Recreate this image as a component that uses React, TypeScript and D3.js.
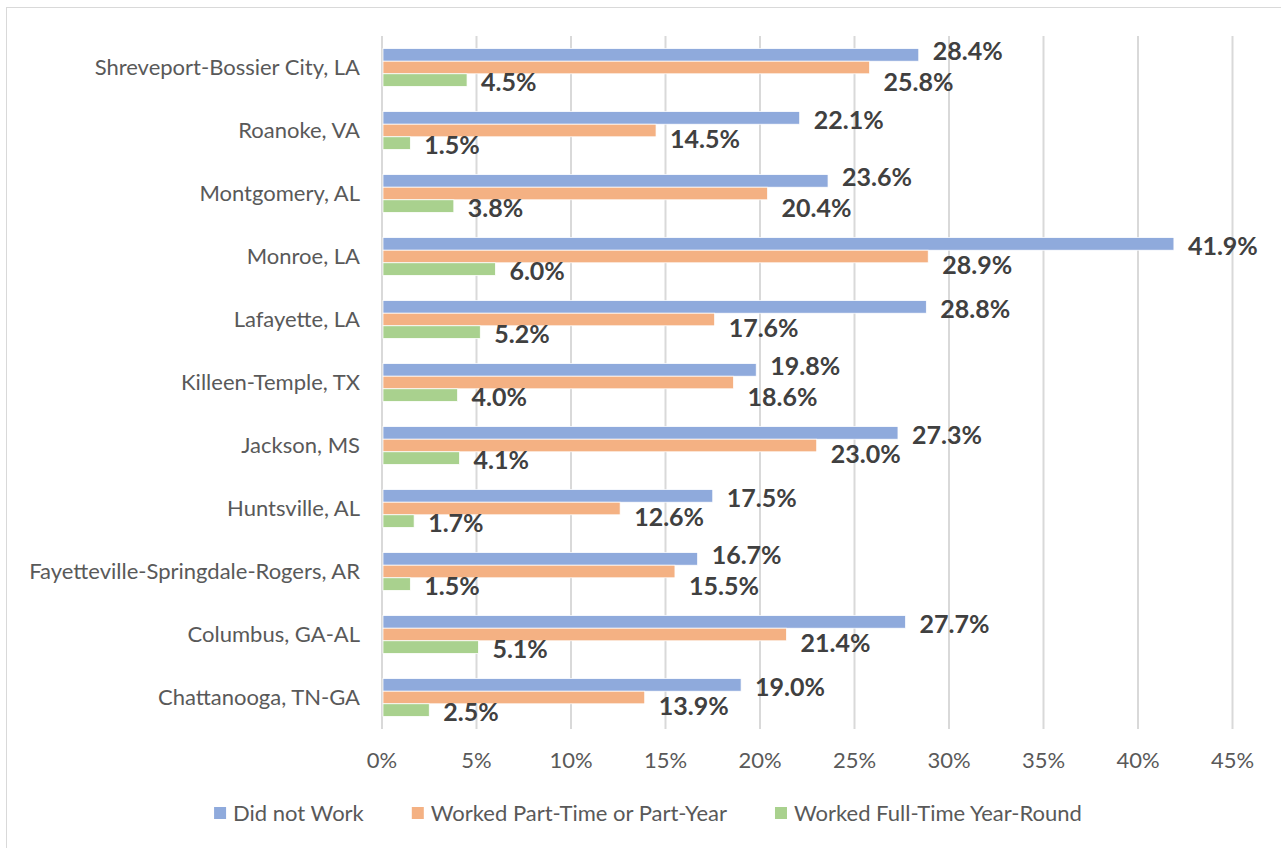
import React, { useRef, useEffect } from 'react';
import * as d3 from 'd3';

const categories = [
  'Shreveport-Bossier City, LA',
  'Roanoke, VA',
  'Montgomery, AL',
  'Monroe, LA',
  'Lafayette, LA',
  'Killeen-Temple, TX',
  'Jackson, MS',
  'Huntsville, AL',
  'Fayetteville-Springdale-Rogers, AR',
  'Columbus, GA-AL',
  'Chattanooga, TN-GA',
];
const didNotWork = [28.4, 22.1, 23.6, 41.9, 28.8, 19.8, 27.3, 17.5, 16.7, 27.7, 19.0];
const partTime = [25.8, 14.5, 20.4, 28.9, 17.6, 18.6, 23.0, 12.6, 15.5, 21.4, 13.9];
const fullTime = [4.5, 1.5, 3.8, 6.0, 5.2, 4.0, 4.1, 1.7, 1.5, 5.1, 2.5];
const seriesNames = ['Did not Work', 'Worked Part-Time or Part-Year', 'Worked Full-Time Year-Round'];
const seriesColors = ['#8FAADC', '#F4B183', '#A9D18E'];
const xTicks = [0, 5, 10, 15, 20, 25, 30, 35, 40, 45];

const W = 1281;
const H = 848;
const FONT = 'Lato, "Noto Sans", sans-serif';

const App: React.FC = () => {
  const svgRef = useRef<SVGSVGElement>(null);

  useEffect(() => {
    if (!svgRef.current) return;
    const svg = d3.select(svgRef.current);
    svg.selectAll('*').remove();

    const plot = { left: 382, right: 1232.5, top: 36, bottom: 729 };
    const values = [didNotWork, partTime, fullTime];

    const x = d3.scaleLinear().domain([0, 45]).range([plot.left, plot.right]);
    const y = d3.scaleBand<string>()
      .domain(categories)
      .range([plot.top, plot.bottom])
      .paddingInner(0.4)
      .paddingOuter(0.2);
    const sub = d3.scaleBand<number>().domain([0, 1, 2]).range([0, y.bandwidth()]);

    // chart frame (cut off at right/bottom)
    svg.append('rect')
      .attr('x', 6.5).attr('y', 7.5)
      .attr('width', W + 20).attr('height', H + 20)
      .attr('fill', '#fff')
      .attr('stroke', '#d9d9d9');

    // gridlines
    svg.append('g')
      .selectAll('line')
      .data(xTicks)
      .join('line')
        .attr('x1', d => x(d)).attr('x2', d => x(d))
        .attr('y1', plot.top).attr('y2', plot.bottom)
        .attr('stroke', '#d9d9d9')
        .attr('stroke-width', 2);

    // tick labels
    svg.append('g')
      .selectAll('text')
      .data(xTicks)
      .join('text')
        .attr('x', d => x(d))
        .attr('y', 768)
        .attr('text-anchor', 'middle')
        .attr('fill', '#595959')
        .style('font', `22px ${FONT}`)
        .text(d => `${d}%`);

    // category labels
    svg.append('g')
      .selectAll('text')
      .data(categories)
      .join('text')
        .attr('x', 360)
        .attr('y', d => (y(d) || 0) + y.bandwidth() / 2 + 7)
        .attr('text-anchor', 'end')
        .attr('fill', '#595959')
        .style('font', `22px ${FONT}`)
        .text(d => d);

    // bars
    values.forEach((vals, s) => {
      svg.append('g')
        .attr('fill', seriesColors[s])
        .selectAll('rect')
        .data(vals)
        .join('rect')
          .attr('x', x(0) + 1)
          .attr('y', (_, i) => (y(categories[i]) || 0) + (sub(s) || 0))
          .attr('width', d => x(d) - x(0) - 1)
          .attr('height', sub.bandwidth())
          .attr('stroke', '#fff')
          .attr('stroke-width', 0.75);
    });

    // data labels, nudged apart where they run into bars / each other
    const lblSize = 25;
    const lblG = svg.append('g')
      .attr('fill', '#404040')
      .style('font', `bold ${lblSize}px ${FONT}`);

    categories.forEach((cat, i) => {
      const top = y(cat) || 0;
      const bw = sub.bandwidth();
      const items = values.map((vals, s) => {
        const v = vals[i];
        const t = lblG.append('text').text(`${v.toFixed(1)}%`);
        const w = (t.node() as SVGTextElement).getComputedTextLength();
        const barTop = top + (sub(s) || 0);
        return { t, v, x0: x(v) + 14, w, barTop, barBot: barTop + bw, c: barTop + bw / 2 + 2 };
      });
      const [b, o] = items;
      if (x(b.v) > o.x0) o.c = Math.max(o.c, b.barBot + 15);
      const overlapX = b.x0 < o.x0 + o.w && o.x0 < b.x0 + b.w;
      const sep = 31;
      if (overlapX && o.c - b.c < sep) {
        const d = (sep - (o.c - b.c)) / 2;
        b.c -= d;
        o.c += d;
      }
      items.forEach(it => {
        it.t.attr('x', it.x0).attr('y', it.c + lblSize * 0.36);
      });
    });

    // legend
    const legend = svg.append('g').style('font', `22px ${FONT}`).attr('fill', '#595959');
    const sq = 12;
    const gapText = 7;
    const gapItem = 48;
    const texts = seriesNames.map(n => legend.append('text').attr('y', 821).text(n));
    const widths = texts.map(t => (t.node() as SVGTextElement).getComputedTextLength());
    const total = d3.sum(widths) + seriesNames.length * (sq + gapText) + gapItem * (seriesNames.length - 1);
    let cx = 648 - total / 2;
    texts.forEach((t, s) => {
      legend.append('rect')
        .attr('x', cx).attr('y', 807)
        .attr('width', sq).attr('height', sq)
        .attr('fill', seriesColors[s]);
      t.attr('x', cx + sq + gapText);
      cx += sq + gapText + widths[s] + gapItem;
    });
  }, []);

  return (
    <svg
      ref={svgRef}
      width={W}
      height={H}
      style={{ position: 'absolute', left: 0, top: 0, background: '#fff' }}
    />
  );
};

export default App;
